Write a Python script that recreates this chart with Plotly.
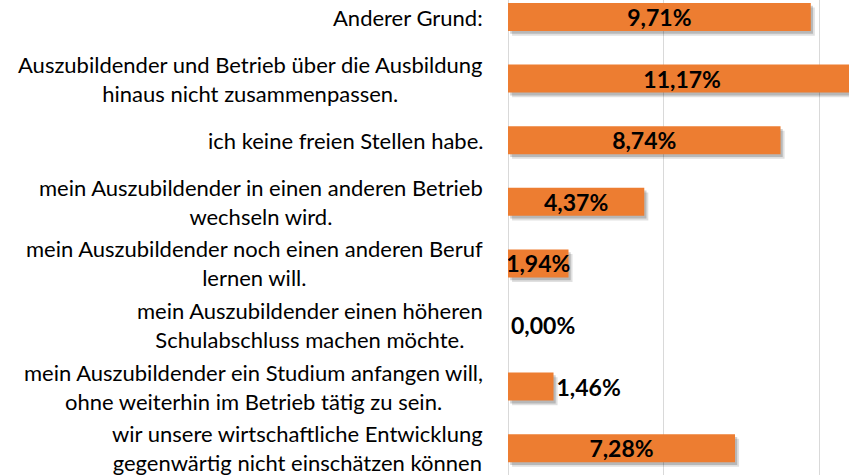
import plotly.graph_objects as go

categories = [
    "Anderer Grund:",
    "Auszubildender und Betrieb über die Ausbildung<br>hinaus nicht zusammenpassen.",
    "ich keine freien Stellen habe.",
    "mein Auszubildender in einen anderen Betrieb<br>wechseln wird.",
    "mein Auszubildender noch einen anderen Beruf<br>lernen will.",
    "mein Auszubildender einen höheren<br>Schulabschluss machen möchte.",
    "mein Auszubildender ein Studium anfangen will,<br>ohne weiterhin im Betrieb tätig zu sein.",
    "wir unsere wirtschaftliche Entwicklung<br>gegenwärtig nicht einschätzen können",
]
values = [9.71, 11.17, 8.74, 4.37, 1.94, 0.00, 1.46, 7.28]
value_labels = ["9,71%", "11,17%", "8,74%", "4,37%", "1,94%", "0,00%", "1,46%", "7,28%"]
text_positions = ["inside", "inside", "inside", "inside", "inside", "outside", "outside", "inside"]

idx = list(range(len(categories)))
BAR_W = 0.455
ORANGE = "#ED7D31"

fig = go.Figure()

# soft drop shadow (two layers)
for base, off, alpha in [(0.13, 0.075, 0.12), (0.07, 0.045, 0.18)]:
    fig.add_trace(go.Bar(
        y=idx, x=values, orientation="h", base=base,
        width=BAR_W, offset=-BAR_W / 2 + off,
        marker=dict(color=f"rgba(0,0,0,{alpha})", line=dict(width=0)),
        hoverinfo="skip", showlegend=False,
    ))

fig.add_trace(go.Bar(
    y=idx, x=values, orientation="h",
    width=BAR_W, offset=-BAR_W / 2,
    marker=dict(color=ORANGE, line=dict(width=0)),
    text=value_labels, textposition=text_positions,
    constraintext="none", insidetextanchor="middle",
    textfont=dict(family="Lato", size=23, color="black", weight="bold"),
    showlegend=False,
))

for i, lab in enumerate(categories):
    fig.add_annotation(
        x=0, xref="paper", y=i, yref="y", text=lab,
        xanchor="right", yanchor="middle", align="center",
        xshift=-23, showarrow=False,
        font=dict(family="Lato", size=22, color="black"),
    )

fig.update_layout(
    width=849, height=475,
    margin=dict(l=508, r=0, t=0, b=0),
    paper_bgcolor="white", plot_bgcolor="white",
    barmode="overlay",
    xaxis=dict(range=[0, 10.935], dtick=5, showgrid=True, gridcolor="#d9d9d9",
               gridwidth=1, zeroline=True, zerolinecolor="#d9d9d9", zerolinewidth=1,
               showticklabels=False, showline=False),
    yaxis=dict(range=[7.435, -0.276], showgrid=False, showticklabels=False,
               zeroline=False, showline=False),
)

fig.write_html(
    "out.html",
    config={"displayModeBar": False},
    post_script="document.body.style.margin='0';document.body.style.overflow='hidden';",
)
